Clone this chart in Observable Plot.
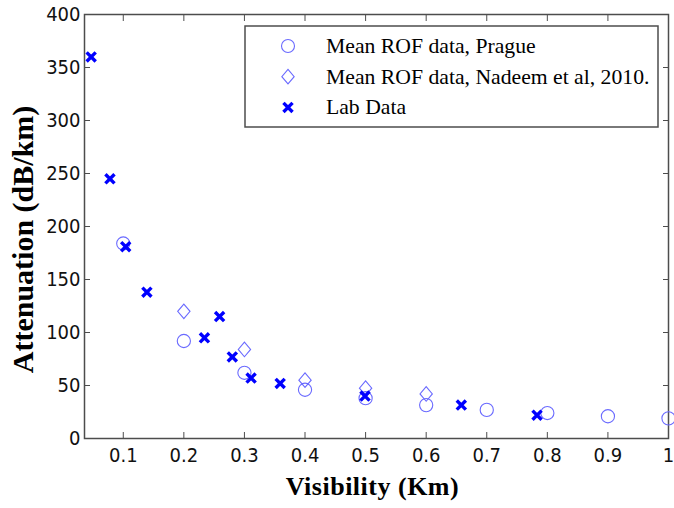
<!DOCTYPE html>
<html>
<head>
<meta charset="utf-8">
<script src="https://cdn.jsdelivr.net/npm/d3@7"></script>
<script src="https://cdn.jsdelivr.net/npm/@observablehq/plot@0.6"></script>
<style>
  html, body { margin: 0; padding: 0; background: #fff; }
  #chart { position: relative; width: 674px; height: 508px; }
</style>
</head>
<body>
<div id="chart"></div>
<script>
// ---- data ----
const pragueX = [0.1, 0.2, 0.3, 0.4, 0.5, 0.6, 0.7, 0.8, 0.9, 1.0];
const pragueY = [184, 92, 62, 46, 38, 31.5, 27, 24, 21, 19];
const nadeemX = [0.2, 0.3, 0.4, 0.5, 0.6];
const nadeemY = [120, 84, 55, 47.5, 42];
const labX = [0.047, 0.078, 0.104, 0.139, 0.234, 0.259, 0.280, 0.311, 0.359, 0.499, 0.658, 0.783];
const labY = [360, 245, 181, 138, 95, 115, 77, 57, 52, 40, 31.5, 22];
const xTicks = [0.1, 0.2, 0.3, 0.4, 0.5, 0.6, 0.7, 0.8, 0.9, 1];
const yTicks = [0, 50, 100, 150, 200, 250, 300, 350, 400];
const seriesNames = ["Mean ROF data, Prague", "Mean ROF data, Nadeem et al, 2010.", "Lab Data"];
const xTitle = "Visibility (Km)";
const yTitle = "Attenuation (dB/km)";

const prague = pragueX.map((x, i) => ({x, y: pragueY[i]}));
const nadeem = nadeemX.map((x, i) => ({x, y: nadeemY[i]}));
const lab = labX.map((x, i) => ({x, y: labY[i]}));

const lightBlue = "#6a6aff";
const blue = "#0000ff";
const frameColor = "#4d4d4d";

const diamondSym = {
  draw(ctx, size) {
    const r = Math.sqrt(size / Math.PI);
    const h = r * 1.12, w = r * 0.95;
    ctx.moveTo(0, -h); ctx.lineTo(w, 0); ctx.lineTo(0, h); ctx.lineTo(-w, 0); ctx.closePath();
  }
};
const timesSym = {
  draw(ctx, size) {
    const r = Math.sqrt(size / Math.PI) * 0.7;
    ctx.moveTo(-r, -r); ctx.lineTo(r, r);
    ctx.moveTo(-r, r); ctx.lineTo(r, -r);
  }
};

const fmt = d => String(d);
const serif = "'Liberation Serif', 'Times New Roman', serif";

const chart = Plot.plot({
  width: 674,
  height: 508,
  marginLeft: 84,
  marginRight: 6,
  marginTop: 14,
  marginBottom: 70,
  style: {fontFamily: "'DejaVu Sans Condensed', 'DejaVu Sans', sans-serif", fontSize: "20px", color: "#111", background: "#fff", overflow: "visible"},
  x: {domain: [0.036, 1.0], label: null},
  y: {domain: [0, 400], label: null},
  marks: [
    Plot.axisX(xTicks, {anchor: "bottom", tickSize: 0, tickPadding: 9, tickFormat: fmt, label: null, fontSize: 20}),
    Plot.axisY(yTicks, {anchor: "left", tickSize: 0, tickPadding: 4, tickFormat: fmt, label: null, fontSize: 20}),
    Plot.axisX(xTicks, {anchor: "bottom", tickSize: -6, tickFormat: () => "", label: null, stroke: frameColor}),
    Plot.axisX(xTicks, {anchor: "top", tickSize: -6, tickFormat: () => "", label: null, stroke: frameColor}),
    Plot.axisY(yTicks, {anchor: "left", tickSize: -6, tickFormat: () => "", label: null, stroke: frameColor}),
    Plot.axisY(yTicks, {anchor: "right", tickSize: -6, tickFormat: () => "", label: null, stroke: frameColor}),
    Plot.frame({stroke: frameColor, strokeWidth: 1.5}),
    Plot.dot(prague, {x: "x", y: "y", r: 6.6, symbol: "circle", stroke: lightBlue, strokeWidth: 1.1, fill: "none"}),
    Plot.dot(nadeem, {x: "x", y: "y", r: 6.5, symbol: diamondSym, stroke: lightBlue, strokeWidth: 1.1, fill: "none"}),
    Plot.dot(lab, {x: "x", y: "y", r: 6.5, symbol: timesSym, stroke: blue, strokeWidth: 3.4, fill: "none"}),
    Plot.text([xTitle], {frameAnchor: "bottom", text: d => d, dy: 56, dx: -4, fontFamily: serif, fontWeight: "bold", fontSize: 26, fill: "#000"}),
    Plot.text([yTitle], {frameAnchor: "left", textAnchor: "middle", text: d => d, rotate: -90, dx: -61, dy: 13, fontFamily: serif, fontWeight: "bold", fontSize: 30, fill: "#000"})
  ]
});

document.getElementById("chart").appendChild(chart);
d3.select(chart).selectAll("text").filter(function () { return this.textContent === xTitle; })
  .style("letter-spacing", "0.5px");

// ---- legend drawn inside the SVG (upper right) ----
const svg = d3.select(chart);
const lg = svg.append("g").attr("transform", "translate(245,26)");
lg.append("rect").attr("width", 413).attr("height", 101)
  .attr("fill", "#fff").attr("stroke", frameColor).attr("stroke-width", 1.5);
const rows = [
  {name: seriesNames[0], sym: d3.symbolCircle, stroke: lightBlue, sw: 1.1},
  {name: seriesNames[1], sym: diamondSym, stroke: lightBlue, sw: 1.1},
  {name: seriesNames[2], sym: timesSym, stroke: blue, sw: 3.4}
];
rows.forEach((r, i) => {
  const g = lg.append("g").attr("transform", `translate(43,${20 + i * 30.7})`);
  g.append("path").attr("d", d3.symbol(r.sym, 6.5 * 6.5 * Math.PI)())
    .attr("fill", "none").attr("stroke", r.stroke).attr("stroke-width", r.sw);
  g.append("text").attr("x", 38).attr("y", 7).attr("text-anchor", "start")
    .attr("font-family", serif)
    .attr("font-size", 21.7).attr("fill", "#000").text(r.name);
});
</script>
</body>
</html>
